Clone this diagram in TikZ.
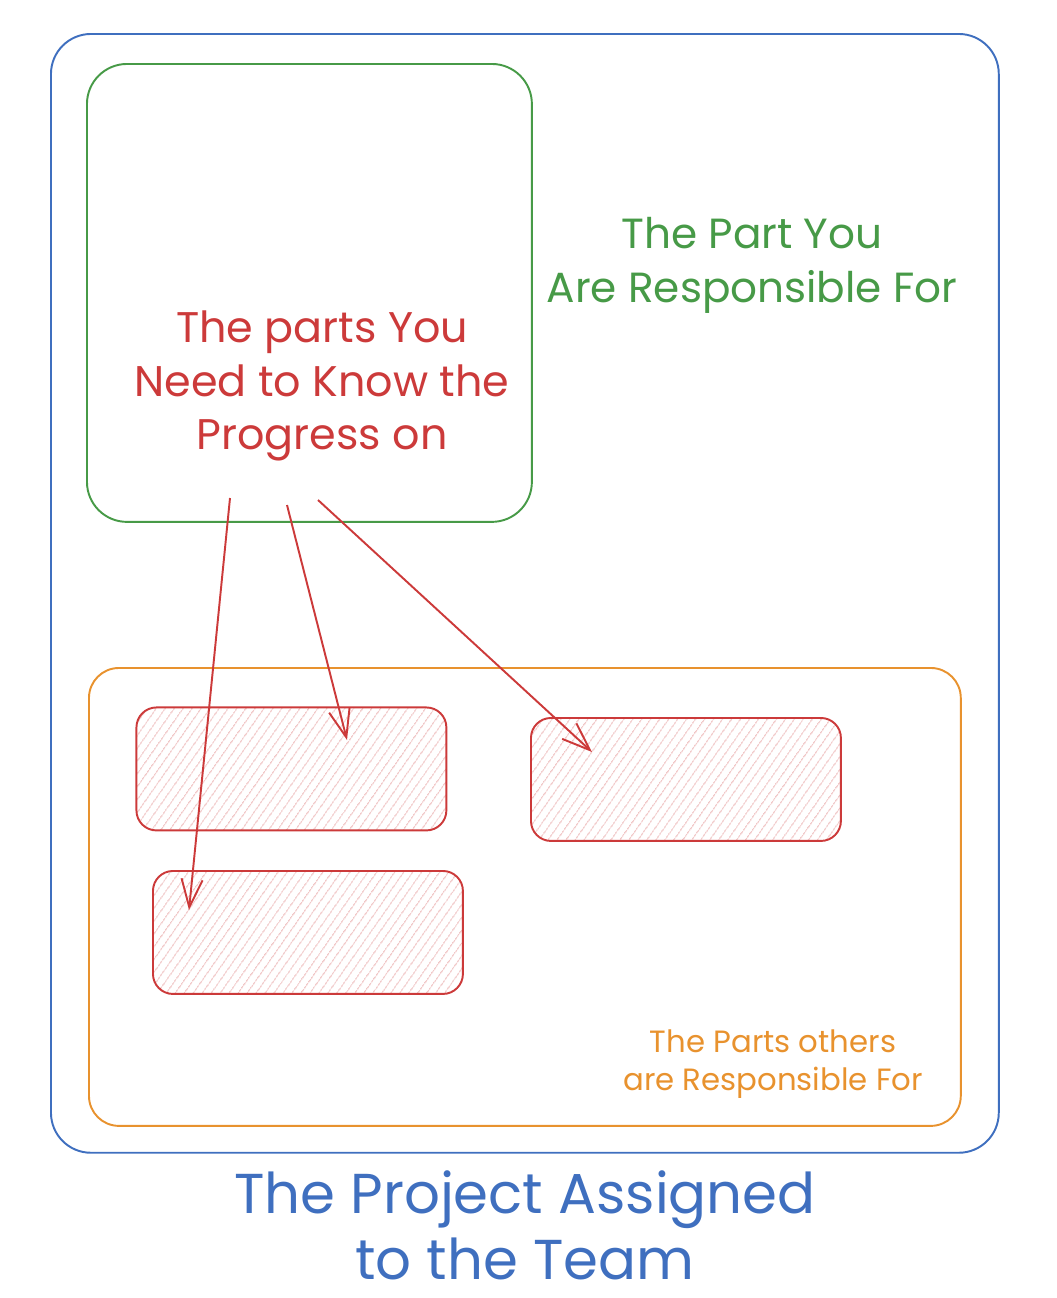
\documentclass[tikz,border=0pt]{standalone}
\usepackage{fontspec}
\setmainfont{Poppins}
\usepackage{tikz}
\usetikzlibrary{arrows.meta,patterns.meta,positioning}

\definecolor{projblue}{HTML}{3F6FBF}
\definecolor{ownergreen}{HTML}{479A47}
\definecolor{needred}{HTML}{CC3A3A}
\definecolor{otherorange}{HTML}{E8922E}

\begin{document}
\begin{tikzpicture}[x=0.02cm,y=-0.02cm,line width=1.1pt,
                    >={Straight Barb[length=16pt,width=12pt]}]
  \tikzstyle{area}=[draw,anchor=north west,inner sep=0pt]
  \tikzstyle{part}=[area,draw=needred,rounded corners=0.4cm,
                    minimum width=6.2cm,minimum height=2.46cm,
                    pattern={Lines[angle=55,distance=4pt,line width=0.5pt]},
                    pattern color=needred!45]
  \tikzstyle{label}=[align=center,inner sep=0pt]

  \useasboundingbox (0,0) rectangle (1056,1298);

  % the boxes
  \node[area,draw=projblue,rounded corners=0.8cm,
        minimum width=18.96cm,minimum height=22.38cm] (project) at (50,33) {};
  \node[area,draw=ownergreen,rounded corners=0.8cm,
        minimum width=8.9cm,minimum height=9.16cm] (mine) at (86,63) {};
  \node[area,draw=otherorange,rounded corners=0.6cm,
        minimum width=17.44cm,minimum height=9.16cm] (others) at (88,667) {};
  \node[part] (partA) at (136,707) {};
  \node[part] (partB) at (530,717) {};
  \node[part] (partC) at (152,870) {};

  % the texts
  \node[label,text=ownergreen,font=\fontsize{24}{30.6}\selectfont]
    (minetext) at (752,265) {The Part You\\Are Responsible For};
  \node[label,text=needred,font=\fontsize{24.4}{30.6}\selectfont]
    (needtext) at (322,386) {The parts You\\Need to Know the\\Progress on};
  \node[label,text=otherorange,font=\fontsize{17.5}{21.5}\selectfont]
    (otherstext) at (773,1064) {The Parts others\\are Responsible For};
  \node[label,text=projblue,font=\fontsize{32}{37.5}\selectfont]
    (projtext) at (525,1225) {The Project Assigned\\to the Team};

  % the arrows
  \coordinate (fromA) at (287,505);
  \coordinate (fromB) at (318,500);
  \coordinate (fromC) at (230,498);
  \coordinate (toA) at (347,740);
  \coordinate (toB) at (592,752);
  \coordinate (toC) at (189,910);
  \draw[->,needred] (fromA) -- (toA);
  \draw[->,needred] (fromB) -- (toB);
  \draw[->,needred] (fromC) -- (toC);
\end{tikzpicture}
\end{document}
